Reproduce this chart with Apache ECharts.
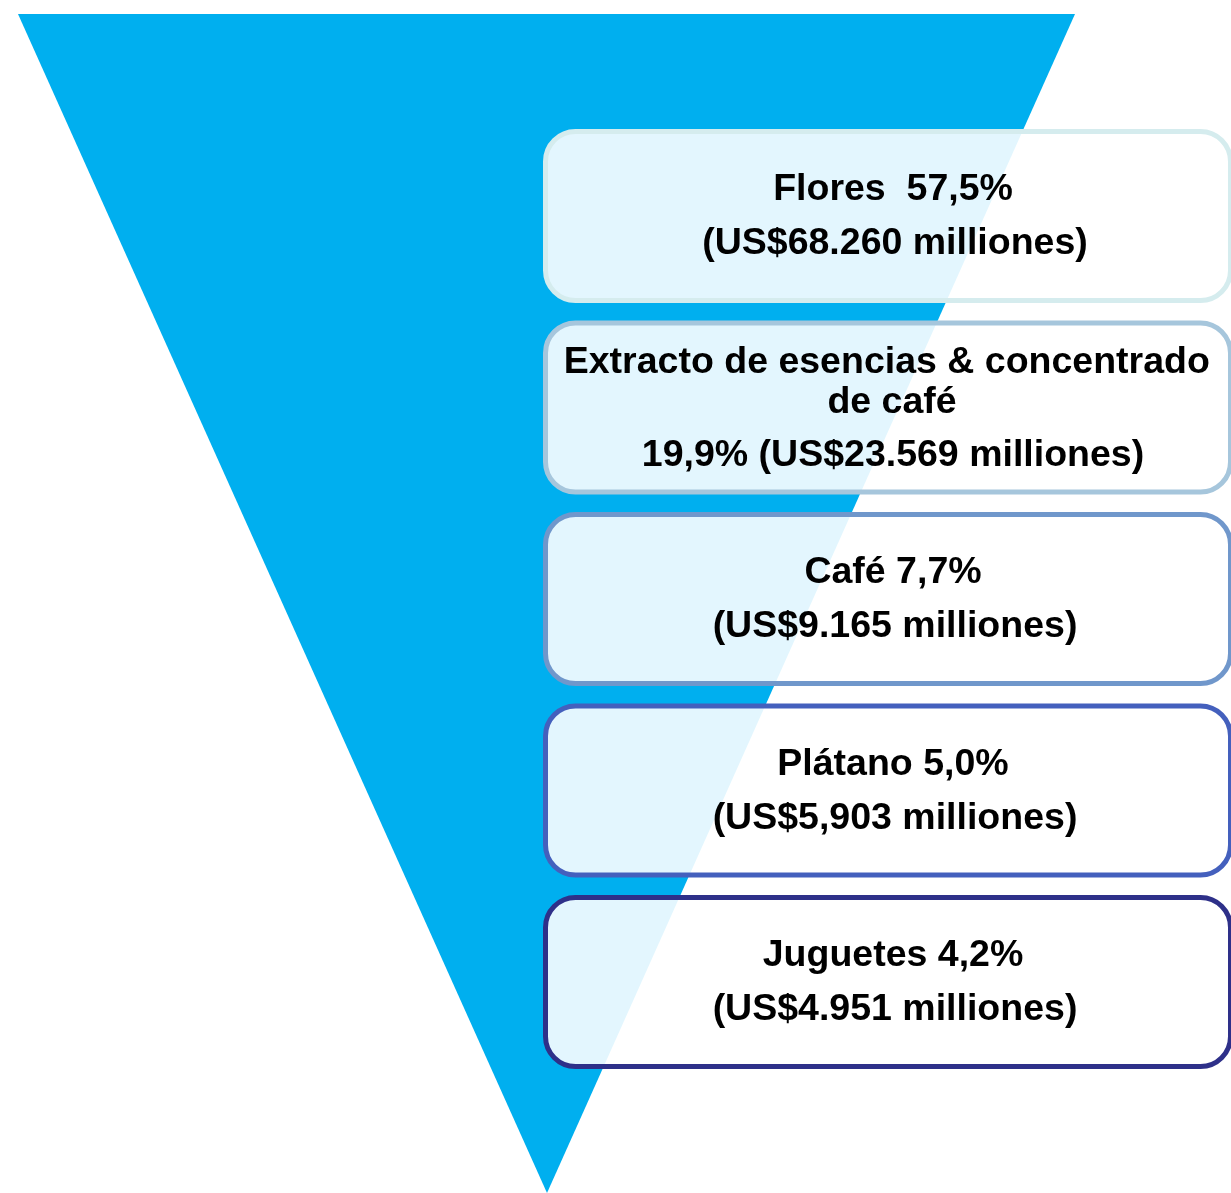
<!DOCTYPE html>
<html>
<head>
<meta charset="utf-8">
<script src="https://cdn.jsdelivr.net/npm/echarts@6/dist/echarts.min.js"></script>
<style>
html,body{margin:0;padding:0;background:#ffffff;}
#chart{width:1231px;height:1193px;}
</style>
</head>
<body>
<div id="chart"></div>
<script>
// ---- data ----
var categories = ["Flores", "Extracto de esencias & concentrado de café", "Café", "Plátano", "Juguetes"];
var shares = ["57,5%", "19,9%", "7,7%", "5,0%", "4,2%"];
var valueLabels = ["68.260", "23.569", "9.165", "5,903", "4.951"];
var nameSeparators = ["  ", " ", " ", " ", " "];
var borderColors = ["#D5ECEE", "#A6C6DC", "#7097CB", "#4460BD", "#2E3089"];

// ---- layout (pixel space of the hidden axes) ----
var W = 1231, H = 1193;
var TRI = [[18, 14], [1075, 14], [547, 1193]];
var BOX_LEFT = 543, BOX_RIGHT = 1233, BOX_TOP0 = 129, BOX_STEP = 191.5, BOX_H = 174, BORDER = 5;
var TEXT_X = 895;
var FONT = 'bold 37.5px "Liberation Sans", Arial, Helvetica, sans-serif';

var chart = echarts.init(document.getElementById('chart'), null, {renderer: 'canvas'});

function textEl(str, x, y, extra) {
  var st = {text: str, x: x, y: y, fill: '#000000', font: FONT, align: 'center', verticalAlign: 'middle'};
  if (extra) for (var k in extra) st[k] = extra[k];
  return {type: 'text', style: st, z2: 10};
}

var option = {
  animation: false,
  backgroundColor: '#ffffff',
  grid: {left: 0, right: 0, top: 0, bottom: 0},
  xAxis: {type: 'value', min: 0, max: W, show: false},
  yAxis: {type: 'value', min: 0, max: H, inverse: true, show: false},
  series: [
    {
      type: 'custom',
      data: [[0, 0]],
      silent: true,
      renderItem: function (params, api) {
        var pts = TRI.map(function (p) { return api.coord(p); });
        return {type: 'polygon', shape: {points: pts}, style: {fill: '#00AFEF'}};
      }
    },
    {
      type: 'custom',
      data: categories.map(function (c, i) { return [i, i]; }),
      silent: true,
      renderItem: function (params, api) {
        var i = params.dataIndex;
        var top = BOX_TOP0 + i * BOX_STEP;
        var p1 = api.coord([BOX_LEFT + BORDER / 2, top + BORDER / 2]);
        var p2 = api.coord([BOX_RIGHT - BORDER / 2, top + BOX_H - BORDER / 2]);
        var cy = api.coord([TEXT_X, top + BOX_H / 2]);
        var children = [{
          type: 'rect',
          shape: {x: p1[0], y: p1[1], width: p2[0] - p1[0], height: p2[1] - p1[1], r: 30},
          style: {fill: 'rgba(255,255,255,0.89)', stroke: borderColors[i], lineWidth: BORDER}
        }];
        var cx = cy[0], cyy = cy[1];
        var money = '(US$' + valueLabels[i] + ' milliones)';
        if (categories[i].length > 20) {
          children.push(textEl(categories[i], cx - 3, cyy - 25, {width: 660, overflow: 'break', lineHeight: 40}));
          children.push(textEl(shares[i] + ' ' + money, cx - 2, cyy + 48));
        } else {
          children.push(textEl(categories[i] + nameSeparators[i] + shares[i], cx - 2, cyy - 26));
          children.push(textEl(money, cx, cyy + 28));
        }
        return {type: 'group', children: children};
      }
    }
  ]
};
chart.setOption(option);
</script>
</body>
</html>
